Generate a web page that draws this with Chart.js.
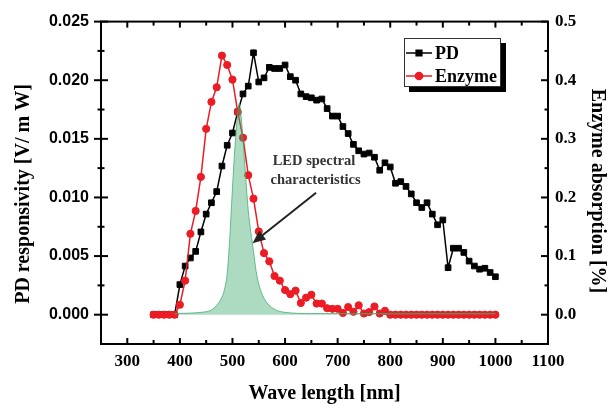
<!DOCTYPE html>
<html>
<head>
<meta charset="utf-8">
<script src="https://cdn.jsdelivr.net/npm/chart.js@4.4.1/dist/chart.umd.min.js"></script>
<style>
  html, body { margin: 0; padding: 0; background: #fff; }
  #wrap { width: 616px; height: 409px; }
</style>
</head>
<body>
<div id="wrap"><canvas id="chart" width="616" height="409"></canvas></div>
<script>
// measurement grid (nm)
const wavelengths = [
  350, 360, 370, 380, 390, 400, 410, 420, 430, 440, 450, 460, 470, 480, 490,
  500, 510, 520, 530, 540, 550, 560, 570, 580, 590, 600, 610, 620, 630, 640,
  650, 660, 670, 680, 690, 700, 710, 720, 730, 740, 750, 760, 770, 780, 790,
  800, 810, 820, 830, 840, 850, 860, 870, 880, 890, 900, 910, 920, 930, 940,
  950, 960, 970, 980, 990, 1000
];

// photodiode responsivity [V/mW]
const pdResponse = [
  0, 0, 0, 0, 0,
  0.00257, 0.00415, 0.00484, 0.0054, 0.00706, 0.00858, 0.00955, 0.0105, 0.01268, 0.01445,
  0.0155, 0.0173, 0.01883, 0.0195, 0.02234, 0.01985, 0.0202, 0.0211, 0.021, 0.021,
  0.0213, 0.0203, 0.02, 0.01883, 0.0186, 0.0185, 0.0183, 0.0184, 0.01758, 0.01694,
  0.01694, 0.01605, 0.01545, 0.01453, 0.01398, 0.0137, 0.01379, 0.01343, 0.01232, 0.01296,
  0.0126, 0.01121, 0.01135, 0.01094, 0.0103, 0.00955, 0.00914, 0.00955, 0.00858, 0.00767,
  0.00808, 0.00401, 0.00567, 0.00567, 0.00531, 0.00457, 0.00415, 0.00388, 0.00396, 0.0036, 0.00324
];

// enzyme absorption [%]
const enzymeAbsorption = [
  0, 0, 0, 0, 0,
  0.017, 0.058, 0.138, 0.177, 0.235, 0.317, 0.363, 0.388, 0.442, 0.426,
  0.401, 0.346, 0.302, 0.238, 0.198, 0.142, 0.105, 0.091, 0.066, 0.058,
  0.042, 0.035, 0.041, 0.02, 0.029, 0.034, 0.019, 0.019, 0.011, 0.01,
  0.01, 0.003, 0.013, 0.005, 0.016, 0.002, 0.0045, 0.014, 0.002, 0.0066,
  0, 0, 0, 0, 0, 0, 0, 0, 0, 0,
  0, 0, 0, 0, 0, 0, 0, 0, 0, 0, 0
];

// LED emission spectrum, plotted against the responsivity axis
const ledWavelengths = [
  390, 440, 460, 470, 480, 485, 490, 495, 500, 505, 510, 513, 515, 520, 525,
  530, 535, 540, 545, 550, 560, 575, 600, 650, 700, 800, 1000
];
const ledIntensity = [
  0.0001, 0.0002, 0.0004, 0.0008, 0.0015, 0.0022, 0.0035, 0.0066, 0.0108, 0.0145, 0.0172, 0.018, 0.0175, 0.015, 0.0118,
  0.0089, 0.007, 0.0054, 0.0037, 0.0026, 0.0014, 0.0006, 0.0002, 0.0001, 0.0001, 0.0001, 0.0001
];

const xTicks = [300, 400, 500, 600, 700, 800, 900, 1000, 1100];
const pdTicks = [0, 0.005, 0.01, 0.015, 0.02, 0.025];
const absTicks = [0, 0.1, 0.2, 0.3, 0.4, 0.5];

const RED = '#ec1c24';
const serif = 'Liberation Serif, Times New Roman, serif';

const pairs = (xs, ys) => xs.map((x, i) => ({ x: x, y: ys[i] }));
const midpoints = (ticks) => ticks.slice(1).map((v, i) => (v + ticks[i]) / 2);

// box, inward/outward tick marks, rotated axis titles
const frame = {
  id: 'frame',
  beforeDatasetsDraw(chart) {
    const { ctx, chartArea: a, scales } = chart;
    const x = scales.x, y = scales.y, y2 = scales.y2;
    ctx.save();
    ctx.strokeStyle = '#000';
    ctx.lineWidth = 2;
    ctx.strokeRect(a.left, a.top, a.right - a.left, a.bottom - a.top);

    const tick = (x0, y0, x1, y1) => {
      ctx.beginPath(); ctx.moveTo(x0, y0); ctx.lineTo(x1, y1); ctx.stroke();
    };
    xTicks.forEach(v => {
      const px = x.getPixelForValue(v);
      tick(px, a.bottom, px, a.bottom - 6);
      tick(px, a.top, px, a.top + 6);
    });
    midpoints(xTicks).forEach(v => {
      const px = x.getPixelForValue(v);
      tick(px, a.bottom, px, a.bottom - 4);
      tick(px, a.top, px, a.top + 4);
    });
    pdTicks.forEach(v => {
      const py = y.getPixelForValue(v);
      tick(a.left - 7, py, a.left + 7, py);
    });
    midpoints(pdTicks).forEach(v => {
      const py = y.getPixelForValue(v);
      tick(a.left - 3.5, py, a.left + 3.5, py);
    });
    absTicks.forEach(v => {
      const py = y2.getPixelForValue(v);
      tick(a.right, py, a.right - 7, py);
    });
    midpoints(absTicks).forEach(v => {
      const py = y2.getPixelForValue(v);
      tick(a.right, py, a.right - 3.5, py);
    });

    ctx.fillStyle = '#000';
    ctx.font = 'bold 20px ' + serif;
    ctx.textAlign = 'center';
    ctx.textBaseline = 'middle';
    ctx.save();
    ctx.translate(24, 194);
    ctx.rotate(-Math.PI / 2);
    ctx.fillText('PD responsivity [V/ m W]', 0, 0);
    ctx.restore();
    ctx.save();
    ctx.translate(597, 191);
    ctx.rotate(Math.PI / 2);
    ctx.fillText('Enzyme absorption [%]', 0, 0);
    ctx.restore();
    ctx.restore();
  },
  afterDatasetsDraw(chart) {
    const { ctx, scales } = chart;
    const x = scales.x, y = scales.y;
    ctx.save();

    // LED label with arrow
    ctx.fillStyle = '#333';
    ctx.font = 'bold 14.5px ' + serif;
    ctx.textAlign = 'center';
    ctx.textBaseline = 'middle';
    ctx.fillText('LED spectral', x.getPixelForValue(655), y.getPixelForValue(0.0131));
    ctx.fillText('characteristics', x.getPixelForValue(658), y.getPixelForValue(0.01145));

    const x0 = x.getPixelForValue(659), y0 = y.getPixelForValue(0.0104);
    const x1 = x.getPixelForValue(538), y1 = y.getPixelForValue(0.0061);
    const ang = Math.atan2(y1 - y0, x1 - x0);
    ctx.strokeStyle = '#222';
    ctx.fillStyle = '#222';
    ctx.lineWidth = 2;
    ctx.beginPath();
    ctx.moveTo(x0, y0);
    ctx.lineTo(x1 - 10 * Math.cos(ang), y1 - 10 * Math.sin(ang));
    ctx.stroke();
    ctx.beginPath();
    ctx.moveTo(x1, y1);
    ctx.lineTo(x1 - 13 * Math.cos(ang) + 5.5 * Math.sin(ang), y1 - 13 * Math.sin(ang) - 5.5 * Math.cos(ang));
    ctx.lineTo(x1 - 13 * Math.cos(ang) - 5.5 * Math.sin(ang), y1 - 13 * Math.sin(ang) + 5.5 * Math.cos(ang));
    ctx.closePath();
    ctx.fill();

    // legend box with drop shadow
    const left = 404, top = 38, w = 96, h = 48;
    ctx.fillStyle = '#000';
    ctx.fillRect(left + 5, top + 5, w + 1, h + 1);
    ctx.fillStyle = '#fff';
    ctx.fillRect(left, top, w, h);
    ctx.strokeStyle = '#333';
    ctx.lineWidth = 1;
    ctx.strokeRect(left + 0.5, top + 0.5, w, h);

    const entries = chart.data.datasets.filter(d => d.inLegend);
    ctx.font = 'bold 18px ' + serif;
    ctx.textAlign = 'left';
    entries.forEach((d, i) => {
      const ey = top + 15 + i * 23;
      ctx.strokeStyle = d.borderColor;
      ctx.fillStyle = d.backgroundColor;
      ctx.lineWidth = 1.5;
      ctx.beginPath();
      ctx.moveTo(left + 2, ey);
      ctx.lineTo(left + 28, ey);
      ctx.stroke();
      Chart.helpers.drawPoint(ctx, {
        pointStyle: d.pointStyle, radius: d.pointRadius, rotation: 0, borderWidth: 1
      }, left + 15, ey);
      ctx.fillStyle = '#000';
      ctx.fillText(d.label, left + 31, ey + 1);
    });
    ctx.restore();
  }
};

new Chart(document.getElementById('chart'), {
  type: 'line',
  data: {
    datasets: [
      {
        label: 'LED',
        data: pairs(ledWavelengths, ledIntensity),
        yAxisID: 'y',
        order: 0,
        borderColor: 'rgba(60, 170, 110, 0.75)',
        backgroundColor: 'rgba(60, 170, 110, 0.42)',
        borderWidth: 1,
        pointRadius: 0,
        fill: 'origin',
        cubicInterpolationMode: 'monotone'
      },
      {
        label: 'PD',
        inLegend: true,
        data: pairs(wavelengths, pdResponse),
        yAxisID: 'y',
        order: 2,
        borderColor: '#000',
        backgroundColor: '#000',
        borderWidth: 1.5,
        pointStyle: 'rect',
        pointRadius: 4,
        pointBorderWidth: 1,
        fill: false
      },
      {
        label: 'Enzyme',
        inLegend: true,
        data: pairs(wavelengths, enzymeAbsorption),
        yAxisID: 'y2',
        order: 1,
        borderColor: RED,
        backgroundColor: RED,
        borderWidth: 1.5,
        pointStyle: 'circle',
        pointRadius: 3.6,
        pointBorderWidth: 1,
        fill: false
      }
    ]
  },
  options: {
    responsive: false,
    animation: false,
    layout: { padding: { top: 14, left: 0, right: 0, bottom: 0 } },
    plugins: { legend: { display: false }, tooltip: { enabled: false } },
    scales: {
      x: {
        type: 'linear',
        position: 'bottom',
        min: 250,
        max: 1100,
        afterBuildTicks: s => { s.ticks = xTicks.map(v => ({ value: v })); },
        afterFit: s => { s.height = 65; },
        grid: { display: false, drawTicks: false },
        border: { display: false },
        ticks: {
          autoSkip: false,
          maxRotation: 0,
          padding: 7,
          color: '#000',
          font: { family: serif, weight: 'bold', size: 17 },
          callback: v => String(v)
        },
        title: {
          display: true,
          text: 'Wave length [nm]',
          color: '#000',
          font: { family: serif, weight: 'bold', size: 20 },
          padding: { top: 0, bottom: 3 }
        }
      },
      y: {
        position: 'left',
        min: -0.0025,
        max: 0.025,
        afterBuildTicks: s => { s.ticks = pdTicks.map(v => ({ value: v })); },
        afterFit: s => { s.width = 101; },
        grid: { display: false, drawTicks: false },
        border: { display: false },
        ticks: {
          padding: 12,
          color: '#000',
          font: { family: 'Liberation Sans, Arial, sans-serif', weight: 'bold', size: 16 },
          callback: v => v.toFixed(3)
        }
      },
      y2: {
        position: 'right',
        min: -0.05,
        max: 0.5,
        afterBuildTicks: s => { s.ticks = absTicks.map(v => ({ value: v })); },
        afterFit: s => { s.width = 68; },
        grid: { display: false, drawTicks: false },
        border: { display: false },
        ticks: {
          padding: 7,
          color: '#000',
          font: { family: serif, weight: 'bold', size: 17 },
          callback: v => v.toFixed(1)
        }
      }
    }
  },
  plugins: [frame]
});
</script>
</body>
</html>
